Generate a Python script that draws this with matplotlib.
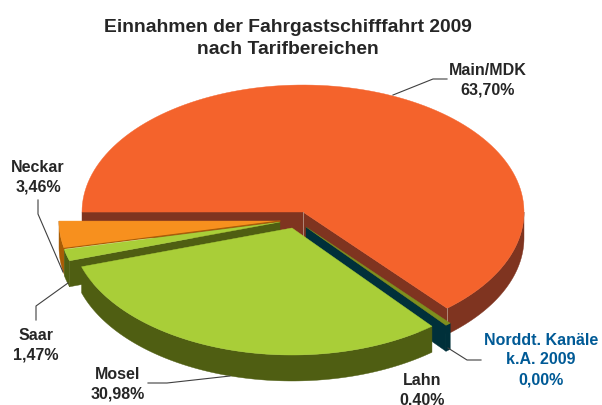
import numpy as np
import matplotlib
matplotlib.use("Agg")
import matplotlib.pyplot as plt
from matplotlib.patches import Polygon

plt.rcParams['font.family'] = ['Liberation Sans', 'DejaVu Sans']

# --- data ---
slices = ["Main/MDK", "Neckar", "Saar", "Mosel", "Lahn", "Norddt. Kanäle"]
values = [63.70, 3.46, 1.47, 30.98, 0.40, 0.00]
value_labels = ["63,70%", "3,46%", "1,47%", "30,98%", "0,40%", "0,00%"]

# --- look of the fake 3d pie ---
START = -49.3
RX, RY = 221, 127
DEPTH = 26
centers = [(303, 212), (280, 221), (280, 222), (292, 228), (306, 227), (306, 227)]
top_cols = ["#F4632C", "#F7901E", "#A9CE38", "#A9CE38", "#7E8F1E", "#00303A"]
side_cols = ["#7F3420", "#A85C05", "#4F5E12", "#4F5E12", "#00303A", "#00303A"]

# slice angles come from the values
spans = [v * 3.6 for v in values]
starts = [START + sum(spans[:i]) for i in range(len(spans))]


def rim(c, a0, a1, n=120):
    t = np.radians(np.linspace(a0, a1, n))
    x = c[0] + RX * np.cos(t)
    y = c[1] - RY * np.sin(t)
    return np.column_stack([x, y])


def poly(ax, pts, col, z, lw=0.3):
    ax.add_patch(Polygon(pts, closed=True, facecolor=col, edgecolor=col, linewidth=lw, zorder=z))


def cut_face(ax, c, angle, col, z):
    p = rim(c, angle, angle, 1)[0]
    pts = [c, p, (p[0], p[1] + DEPTH), (c[0], c[1] + DEPTH)]
    poly(ax, pts, col, z)


def wall(ax, c, a0, a1, col, z):
    top = rim(c, a0, a1)
    bot = top[::-1] + [0, DEPTH]
    poly(ax, np.vstack([top, bot]), col, z)


fig = plt.figure(figsize=(6.02, 4.05), dpi=100)
ax = fig.add_axes([0, 0, 1, 1])
ax.set_xlim(0, 602)
ax.set_ylim(405, 0)
ax.axis("off")

# Main (back)
c = centers[0]
a0, a1 = starts[0], starts[0] + spans[0]
cut_face(ax, c, a1, side_cols[0], 1)
cut_face(ax, c, a0, side_cols[0], 1)
wall(ax, c, a0, 0, side_cols[0], 1)
poly(ax, np.vstack([[c], rim(c, a0, a1)]), top_cols[0], 2)
# light edges on the corners of the main slice
ax.plot([c[0], c[0]], [c[1], c[1] + DEPTH], color="#B08878", lw=0.7, zorder=2)
p = rim(c, a0, a0, 1)[0]
ax.plot([p[0], p[0]], [p[1], p[1] + DEPTH], color="#B08878", lw=0.7, zorder=2)

# Lahn / Norddt. sit in the gap between Main and Mosel
c = centers[4]
a0 = starts[4]
cut_face(ax, c, a0, side_cols[4], 3)
wall(ax, c, a0, a0 + spans[4], side_cols[4], 3)
poly(ax, np.vstack([[c], rim(c, a0, a0 + spans[4])]), top_cols[4], 4)

# Neckar
c = centers[1]
a0, a1 = starts[1], starts[1] + spans[1]
wall(ax, c, a0, a1, side_cols[1], 5)
poly(ax, np.vstack([[c], rim(c, a0, a1)]), top_cols[1], 6)
ax.plot(*np.array([c, rim(c, a1, a1, 1)[0]]).T, color="#A85C05", lw=0.8, zorder=8)

# Saar
c = centers[2]
a0, a1 = starts[2], starts[2] + spans[2]
wall(ax, c, a0, a1, side_cols[2], 6)
cut_face(ax, c, a1, side_cols[2], 6)
poly(ax, np.vstack([[c], rim(c, a0, a1)]), top_cols[2], 7)

# Mosel (front)
c = centers[3]
a0, a1 = starts[3], starts[3] + spans[3]
wall(ax, c, a0, a1, side_cols[3], 9)
poly(ax, np.vstack([[c], rim(c, a0, a1)]), top_cols[3], 10)

# leader lines
leaders = [
    [(393, 95), (433, 79), (447, 79)],
    [(38, 200), (38, 214), (63, 272)],
    [(36, 320), (36, 306), (68, 283)],
    [(148, 383), (167, 383), (230, 376)],
    [(448, 348), (467, 360), (481, 360)],
]
for l in leaders:
    ax.plot(*zip(*l), color="#404040", lw=0.8, zorder=11)

# texts
dark = "#262626"
blue = "#005A96"
fs = 11.5
ls = 1.4
ax.text(288, 38.5, "Einnahmen der Fahrgastschifffahrt 2009\nnach Tarifbereichen", ha="center", va="center",
        fontsize=13.9, fontweight="bold", color=dark, linespacing=1.42)

ax.text(488, 80, slices[0] + "\n" + value_labels[0], ha="center", va="center", fontsize=fs, fontweight="bold",
        color=dark, linespacing=ls)
ax.text(38, 177, slices[1] + "\n" + value_labels[1], ha="center", va="center", fontsize=fs, fontweight="bold",
        color=dark, linespacing=ls)
ax.text(36, 345.5, slices[2] + "\n" + value_labels[2], ha="center", va="center", fontsize=fs, fontweight="bold",
        color=dark, linespacing=ls)
ax.text(118, 384, slices[3] + "\n" + value_labels[3], ha="center", va="center", fontsize=fs, fontweight="bold",
        color=dark, linespacing=ls)
ax.text(422, 390.5, slices[4] + "\n" + value_labels[4], ha="center", va="center", fontsize=fs, fontweight="bold",
        color=dark, linespacing=ls)
ax.text(541, 360, slices[5] + "\nk.A. 2009\n" + value_labels[5], ha="center", va="center", fontsize=fs,
        fontweight="bold", color=blue, linespacing=ls)

fig.savefig("out.png", dpi=100)
